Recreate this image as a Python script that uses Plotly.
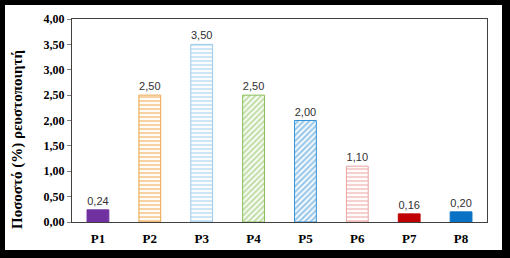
import plotly.graph_objects as go

categories = ["P1", "P2", "P3", "P4", "P5", "P6", "P7", "P8"]
values = [0.24, 2.50, 3.50, 2.50, 2.00, 1.10, 0.16, 0.20]
labels = ["0,24", "2,50", "3,50", "2,50", "2,00", "1,10", "0,16", "0,20"]
colors = ["#7030A0", "#EDA549", "#9DCBEB", "#86BE55", "#3592D6", "#E9A4A2", "#C00000", "#0A72C4"]
patterns = ["", "-", "-", "/", "/", "-", "", ""]
tick_vals = [0, 0.5, 1, 1.5, 2, 2.5, 3, 3.5, 4]
tick_text = ["0,00", "0,50", "1,00", "1,50", "2,00", "2,50", "3,00", "3,50", "4,00"]
y_title = "Ποσοστό (%) ρευστοποιητή"

W, H = 510, 258
L, R, T, B = 72, 23, 19, 36
pw, ph = W - L - R, H - T - B

fig = go.Figure()
for cat, v, lab, c, p in zip(categories, values, labels, colors, patterns):
    marker = dict(color=c, line=dict(color=c, width=1))
    if p:
        marker = dict(color="white", line=dict(color=c, width=1),
                      pattern=dict(shape=p, fgcolor=c, bgcolor="white",
                                   size=4, solidity=0.55, fillmode="overlay"))
    fig.add_trace(go.Bar(
        x=[cat], y=[v], text=[lab], textposition="outside",
        textfont=dict(family="Liberation Sans", size=11, color="#303030"),
        cliponaxis=False, width=0.42, marker=marker,
    ))

fig.update_layout(
    width=W, height=H,
    margin=dict(l=L, r=R, t=T, b=B),
    paper_bgcolor="black", plot_bgcolor="white",
    barmode="overlay", showlegend=False,
    shapes=[dict(type="rect", xref="paper", yref="paper",
                 x0=(5 - L) / pw, x1=(502 - L) / pw,
                 y0=(T + ph - 250) / ph, y1=(T + ph - 5) / ph,
                 fillcolor="white", line=dict(width=0), layer="below")],
    annotations=[dict(text=y_title, textangle=-90, xref="paper", yref="paper",
                      x=(17 - L) / pw, y=(T + ph - 140) / ph, showarrow=False,
                      font=dict(family="Liberation Serif", size=15, color="black",
                                weight="bold"),
                      xanchor="center", yanchor="middle")],
)
fig.update_xaxes(categoryorder="array", categoryarray=categories,
                 showline=True, linecolor="#404040", linewidth=1, mirror=True,
                 ticks="", tickfont=dict(family="Liberation Serif", size=13,
                                         color="black", weight="bold"),
                 ticklabelstandoff=4)
fig.update_yaxes(range=[0, 4], tickvals=tick_vals, ticktext=tick_text,
                 showline=True, linecolor="#404040", linewidth=1, mirror=True,
                 ticks="outside", ticklen=4, tickcolor="#808080",
                 showgrid=False, zeroline=False,
                 tickfont=dict(family="Liberation Serif", size=12, color="black",
                               weight="bold"))

fig.write_html("out.html")
